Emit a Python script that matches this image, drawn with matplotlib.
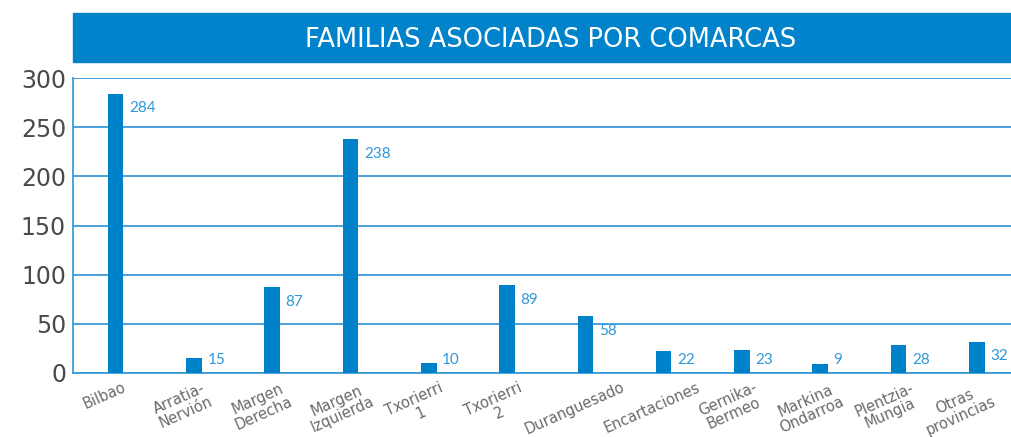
import numpy as np
import matplotlib.pyplot as plt
from matplotlib.patches import Rectangle

comarcas = ['Bilbao', 'Arratia-\nNervión', 'Margen\nDerecha', 'Margen\nIzquierda',
            'Txorierri\n1', 'Txorierri\n2', 'Duranguesado', 'Encartaciones',
            'Gernika-\nBermeo', 'Markina\nOndarroa', 'Plentzia-\nMungia', 'Otras\nprovincias']
familias = [284, 15, 87, 238, 10, 89, 58, 22, 23, 9, 28, 32]
y_ticks = [0, 50, 100, 150, 200, 250, 300]

BAR_COLOR = '#0082CA'
LINE_COLOR = '#3D9BDA'
LABEL_COLOR = '#2E98D8'

plt.rcParams['font.family'] = ['DejaVu Sans']

fig = plt.figure(figsize=(10.12, 4.37), dpi=100)
ax = fig.add_axes([73 / 1012, 1 - 373 / 437, (1012 - 73) / 1012, (373 - 78) / 437])

x = np.arange(len(familias))
bars = ax.bar(x, familias, width=0.2, color=BAR_COLOR, zorder=3)

# value labels just right of each bar, a little below its top
for bar, val in zip(bars, familias):
    ax.annotate(str(val), (bar.get_x() + bar.get_width(), max(val - 15, 13)),
                xytext=(4, 0), textcoords='offset points',
                ha='left', va='center', color=LABEL_COLOR, fontsize=11,
                family='Lato')

ax.set_ylim(0, 300)
ax.set_xlim(-0.545, 11.45)
ax.set_yticks(y_ticks)
ax.set_yticklabels([str(t) for t in y_ticks], fontsize=17, color='#4a4a4a')
ax.yaxis.grid(True, color=LINE_COLOR, linewidth=1.3, zorder=0)

# category labels, rotated and sitting a little left of their bars
ax.set_xticks(x)
ax.set_xticklabels([])
for i, name in enumerate(comarcas):
    dx = -14 if i == len(comarcas) - 1 else -8
    ax.annotate(name, (i, 0), xytext=(dx, -5), textcoords='offset points',
                rotation=24, fontsize=10.5, color='#6a6a6a',
                ha='center', va='top', linespacing=1.0, annotation_clip=False)

ax.tick_params(axis='both', length=0)
ax.tick_params(axis='y', pad=5)

for side in ['top', 'right']:
    ax.spines[side].set_visible(False)
ax.spines['left'].set_color(LINE_COLOR)
ax.spines['bottom'].set_color(LINE_COLOR)
ax.spines['left'].set_linewidth(1.3)
ax.spines['bottom'].set_linewidth(1.3)

# title banner
fig.patches.append(Rectangle((73 / 1012, 1 - 62 / 437), 1 - 73 / 1012, 49 / 437,
                             transform=fig.transFigure, color='#0083CB', zorder=0))
fig.text(551 / 1012, 1 - 40 / 437, 'FAMILIAS ASOCIADAS POR COMARCAS',
         color='white', fontsize=18.5, ha='center', va='center')

fig.savefig('out.png', dpi=100)
